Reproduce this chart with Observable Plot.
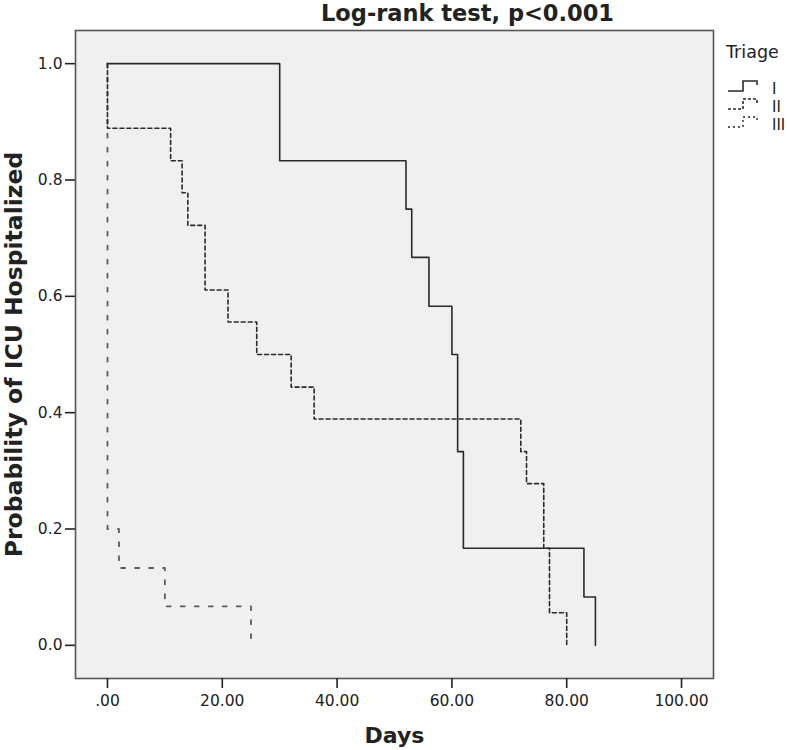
<!DOCTYPE html>
<html>
<head>
<meta charset="utf-8">
<script src="https://cdn.jsdelivr.net/npm/d3@7"></script>
<script src="https://cdn.jsdelivr.net/npm/@observablehq/plot@0.6"></script>
<style>
  html, body { margin: 0; padding: 0; background: white; }
  #chart { position: relative; width: 787px; height: 750px; }
</style>
</head>
<body>
<div id="chart"></div>
<script>
// ---- data ----
const groups = ["I", "II", "III"];
const triageI_days = [0, 30, 52, 53, 56, 60, 61, 62, 83, 85];
const triageI_surv = [1, 0.833, 0.75, 0.667, 0.583, 0.5, 0.333, 0.167, 0.083, 0];
const triageII_days = [0, 0, 11, 13, 14, 17, 21, 26, 32, 36, 72, 73, 76, 77, 80];
const triageII_surv = [1, 0.889, 0.833, 0.778, 0.722, 0.611, 0.556, 0.5, 0.444, 0.389, 0.333, 0.278, 0.167, 0.056, 0];
const triageIII_days = [0, 0, 2, 10, 25];
const triageIII_surv = [1, 0.2, 0.133, 0.067, 0];
const xTicks = [0, 20, 40, 60, 80, 100];
const yTicks = [0, 0.2, 0.4, 0.6, 0.8, 1.0];
const titleText = "Log-rank test, p<0.001";
const xLabel = "Days";
const yLabel = "Probability of ICU Hospitalized";
const legendTitle = "Triage";

const toRows = (g, days, surv) => days.map((d, i) => ({group: g, days: d, surv: surv[i]}));
const rowsI = toRows("I", triageI_days, triageI_surv);
const rowsII = toRows("II", triageII_days, triageII_surv);
const rowsIII = toRows("III", triageIII_days, triageIII_surv);

const styles = {
  I:   {stroke: "#2a2a2a", strokeWidth: 1.6, strokeDasharray: null},
  II:  {stroke: "#2a2a2a", strokeWidth: 1.6, strokeDasharray: "4,3"},
  III: {stroke: "#5a5a5a", strokeWidth: 1.8, strokeDasharray: "4,10"}
};

const font = "DejaVu Sans, sans-serif";

const chart = Plot.plot({
  width: 787,
  height: 750,
  marginLeft: 75,
  marginRight: 74,
  marginTop: 30,
  marginBottom: 72,
  x: {domain: [-5.57, 105.57]},
  y: {domain: [-0.057, 1.057]},
  style: {fontFamily: font, background: "white", color: "#222", overflow: "visible"},
  marks: [
    Plot.frame({fill: "#f0f0f0", stroke: "#555", strokeWidth: 1.6}),
    Plot.axisX({ticks: xTicks, tickFormat: d => d === 0 ? ".00" : d.toFixed(2),
      tickSize: 10, tickPadding: 6, fontSize: 15.5, label: null, strokeWidth: 1.6, stroke: "#222"}),
    Plot.axisY({ticks: yTicks, tickFormat: d => d.toFixed(1),
      tickSize: 10, tickPadding: 3, fontSize: 15.5, label: null, strokeWidth: 1.6, stroke: "#222"}),
    Plot.line(rowsIII, {x: "days", y: "surv", curve: "step-after", ...styles.III}),
    Plot.line(rowsII, {x: "days", y: "surv", curve: "step-after", ...styles.II}),
    Plot.line(rowsI, {x: "days", y: "surv", curve: "step-after", ...styles.I}),
    Plot.text([titleText], {frameAnchor: "top", dx: 73, dy: -25, lineAnchor: "top", text: d => d,
      fontSize: 22.5, fontWeight: "bold", fill: "#222"}),
    Plot.text([xLabel], {frameAnchor: "bottom", dy: 57, lineAnchor: "middle", text: d => d,
      fontSize: 22, fontWeight: "bold", fill: "#222"}),
    Plot.text([yLabel], {frameAnchor: "left", dx: -61, rotate: -90, textAnchor: "middle", text: d => d,
      fontSize: 23.5, fontWeight: "bold", fill: "#222"})
  ]
});

document.getElementById("chart").appendChild(chart);

// ---- legend ----
const svg = d3.select(chart);
const lg = svg.append("g").attr("transform", "translate(726,0)")
  .attr("font-family", font).attr("text-anchor", "start");
lg.append("text").attr("x", 0).attr("y", 58).attr("font-size", 17.5).attr("fill", "#222").text(legendTitle);
groups.forEach((g, i) => {
  const y0 = 81 + i * 18;
  const s = styles[g];
  lg.append("path")
    .attr("d", `M2,${y0 + 10} H17 V${y0} H31 V${y0 + 4}`)
    .attr("fill", "none")
    .attr("stroke", s.stroke)
    .attr("stroke-width", s.strokeWidth)
    .attr("stroke-dasharray", g === "III" ? "2,3" : (g === "II" ? "3,2" : null));
  lg.append("text").attr("x", 46).attr("y", y0 + 13).attr("font-size", 15).attr("fill", "#222").text(g);
});
</script>
</body>
</html>
